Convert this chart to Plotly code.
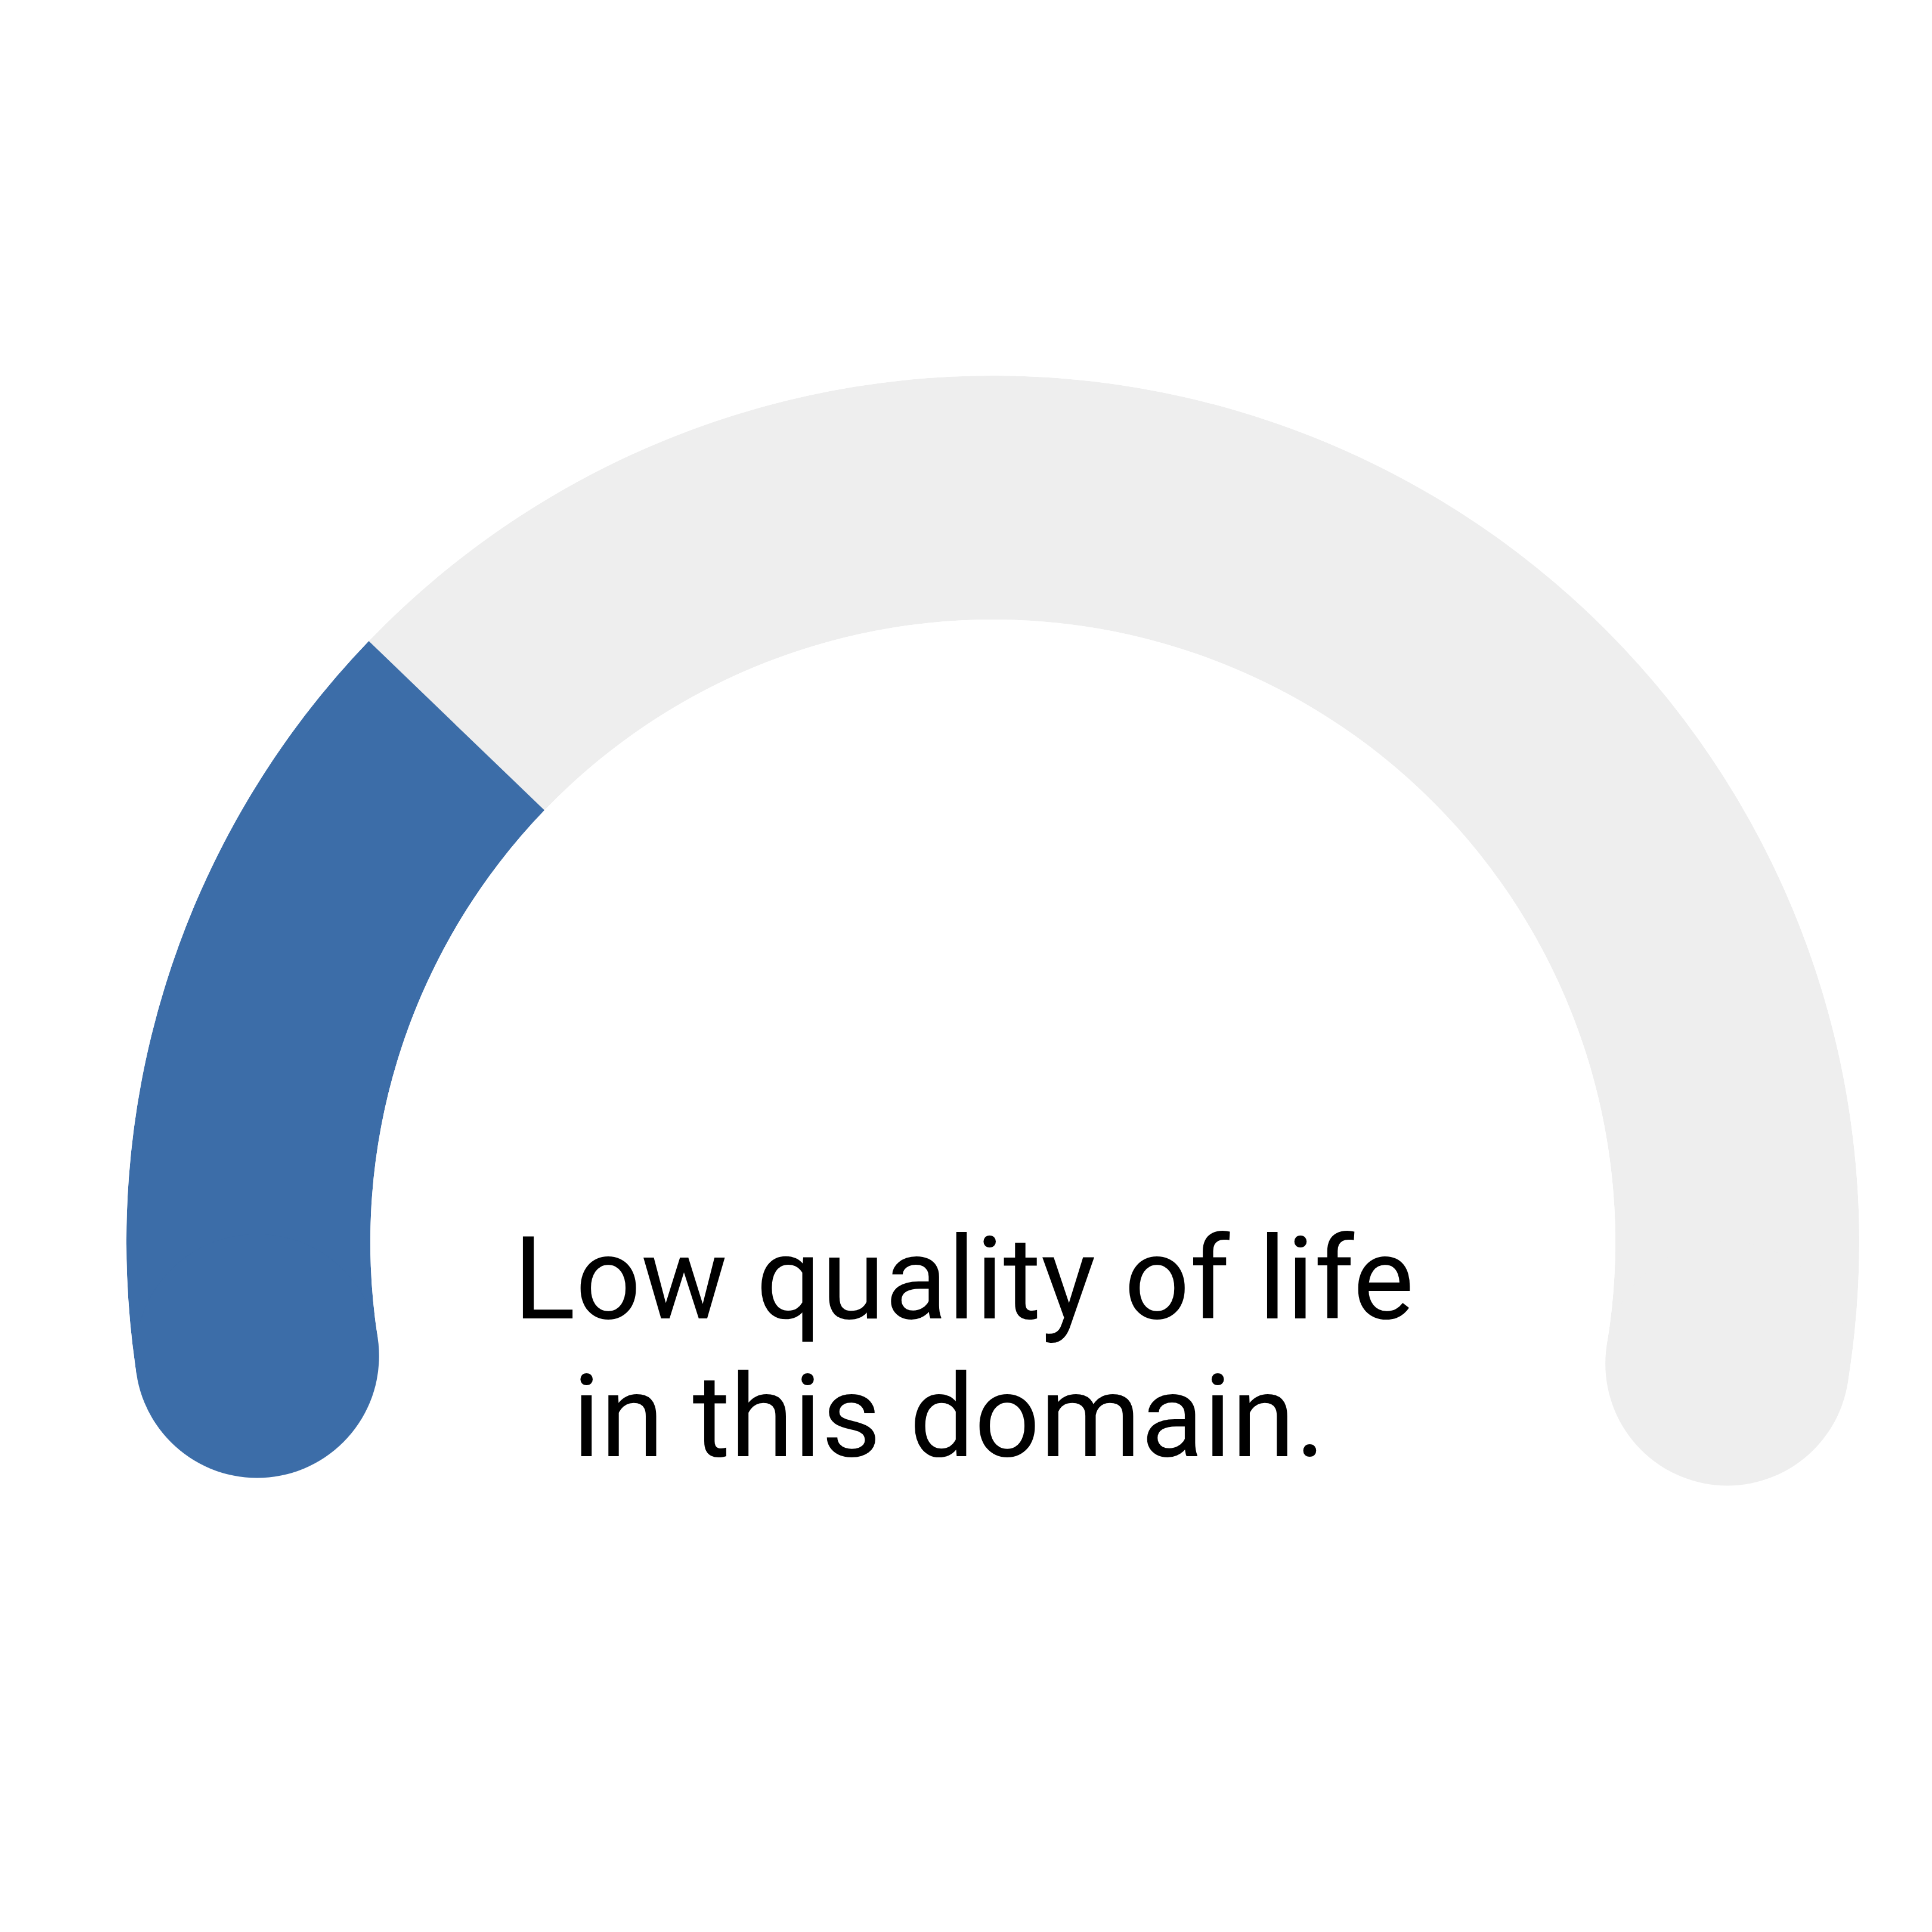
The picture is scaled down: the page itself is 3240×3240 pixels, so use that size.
import math
import plotly.graph_objects as go

# ---- data ----
gauge_min = 0
gauge_max = 100
value = 26.6
label_lines = ["Low quality of life", "in this domain."]

# ---- style / geometry ----
start_angle = 188.8   # screen angle (deg) where gauge_min sits
end_angle = -9.4      # screen angle (deg) where gauge_max sits
track_color = "#EEEEEE"
bar_color = "#3C6DA8"
hole = 0.7185
W = H = 3240
center_px = (1657, 2075)
R_px = 1453
sector = [end_angle - 3, start_angle + 3]

span = start_angle - end_angle


def to_theta(v):
    return (v - gauge_min) / (gauge_max - gauge_min) * span


# polar domain so that the sector bbox maps to the desired circle
ymin_unit = min(math.sin(math.radians(sector[0])), math.sin(math.radians(sector[1])))
x0 = (center_px[0] - R_px) / W
x1 = (center_px[0] + R_px) / W
y_top = 1 - (center_px[1] - R_px) / H
y_bot = 1 - (center_px[1] - ymin_unit * R_px) / H

band_px = (1 - hole) * R_px

fig = go.Figure()
fig.add_trace(go.Barpolar(
    r=[1], theta=[to_theta((gauge_min + gauge_max) / 2)], width=[to_theta(gauge_max)],
    marker=dict(color=track_color, line=dict(width=0)), hoverinfo="skip"))
fig.add_trace(go.Barpolar(
    r=[1], theta=[to_theta(value) / 2], width=[to_theta(value)],
    marker=dict(color=bar_color, line=dict(width=0)), hoverinfo="skip"))
# rounded ends
fig.add_trace(go.Scatterpolar(
    r=[0.5], theta=[to_theta(gauge_max)], mode="markers", cliponaxis=False,
    marker=dict(size=band_px, color=track_color, line=dict(width=0)), hoverinfo="skip"))
fig.add_trace(go.Scatterpolar(
    r=[0.5], theta=[to_theta(gauge_min)], mode="markers", cliponaxis=False,
    marker=dict(size=band_px, color=bar_color, line=dict(width=0)), hoverinfo="skip"))

fig.update_layout(
    width=W, height=H,
    margin=dict(l=0, r=0, t=0, b=0),
    paper_bgcolor="white",
    showlegend=False,
    polar=dict(
        domain=dict(x=[x0, x1], y=[y_bot, y_top]),
        sector=sector,
        hole=hole,
        bgcolor="rgba(0,0,0,0)",
        radialaxis=dict(range=[0, 1], visible=False, showgrid=False),
        angularaxis=dict(visible=False, showgrid=False, direction="clockwise",
                         rotation=start_angle, thetaunit="degrees"),
    ),
    annotations=[
        dict(text=label_lines[0], x=0.4962, y=0.3405, xref="paper", yref="paper",
             xanchor="center", yanchor="middle", showarrow=False,
             font=dict(family="Roboto", size=193, color="black")),
        dict(text=label_lines[1], x=0.4888, y=0.2692, xref="paper", yref="paper",
             xanchor="center", yanchor="middle", showarrow=False,
             font=dict(family="Roboto", size=193, color="black")),
    ],
)

fig.write_html("out.html")
